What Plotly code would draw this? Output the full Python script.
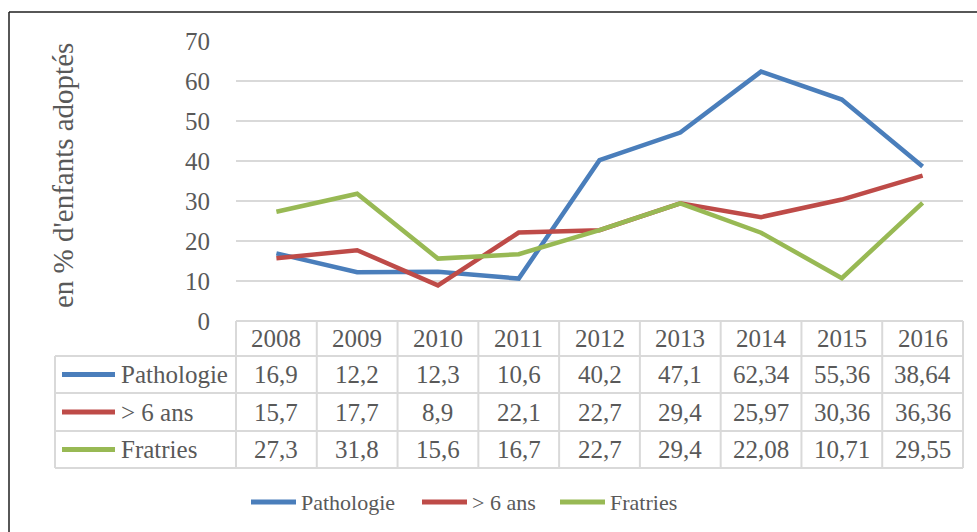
import plotly.graph_objects as go

# Data
years = ["2008", "2009", "2010", "2011", "2012", "2013", "2014", "2015", "2016"]
pathologie = [16.9, 12.2, 12.3, 10.6, 40.2, 47.1, 62.34, 55.36, 38.64]
plus_6_ans = [15.7, 17.7, 8.9, 22.1, 22.7, 29.4, 25.97, 30.36, 36.36]
fratries = [27.3, 31.8, 15.6, 16.7, 22.7, 29.4, 22.08, 10.71, 29.55]

series_names = ["Pathologie", "> 6 ans", "Fratries"]
series_values = [pathologie, plus_6_ans, fratries]
series_colors = ["#4A7EBB", "#BE4B48", "#98B954"]

y_ticks = [0, 10, 20, 30, 40, 50, 60, 70]
y_title = "en % d'enfants adoptés"

W, H = 977, 532
FONT = "Liberation Serif"
TXT = "#595959"
GRID = "#D9D9D9"


def px(x):
    return x / W


def py(y):
    return 1 - y / H


# plot-area geometry (pixels)
PL, PR = 236, 963      # left / right of plot & table columns
PT, PB = 41, 321       # top (70) / bottom (0) of value axis
ROWS = [321, 356, 393, 431, 468]   # table horizontal rules
TL = 55                # left edge of the label column

fig = go.Figure()

for name, vals, col in zip(series_names, series_values, series_colors):
    fig.add_trace(go.Scatter(
        x=years, y=vals, mode="lines", name=name,
        line=dict(color=col, width=4.5), showlegend=False,
        hoverinfo="x+y+name",
    ))

shapes = []
annotations = []

# outer chart border (left and top edges)
shapes.append(dict(type="line", xref="paper", yref="paper",
                   x0=px(9), x1=px(9), y0=py(12), y1=py(H + 5),
                   line=dict(color="#1f1f1f", width=1.5)))
shapes.append(dict(type="line", xref="paper", yref="paper",
                   x0=px(9), x1=px(W + 5), y0=py(12), y1=py(12),
                   line=dict(color="#1f1f1f", width=1.5)))

# data table rules
ncol = len(years)
colw = (PR - PL) / ncol
shapes.append(dict(type="line", xref="paper", yref="paper",
                   x0=px(PL), x1=px(PR), y0=py(ROWS[0]), y1=py(ROWS[0]),
                   line=dict(color=GRID, width=2)))
for yr in ROWS[1:]:
    shapes.append(dict(type="line", xref="paper", yref="paper",
                       x0=px(TL), x1=px(PR), y0=py(yr), y1=py(yr),
                       line=dict(color=GRID, width=2)))
for i in range(ncol + 1):
    xx = PL + i * colw
    shapes.append(dict(type="line", xref="paper", yref="paper",
                       x0=px(xx), x1=px(xx), y0=py(ROWS[0]), y1=py(ROWS[-1]),
                       line=dict(color=GRID, width=2)))
shapes.append(dict(type="line", xref="paper", yref="paper",
                   x0=px(TL), x1=px(TL), y0=py(ROWS[1]), y1=py(ROWS[-1]),
                   line=dict(color=GRID, width=2)))

# header row: years
for i, yv in enumerate(years):
    annotations.append(dict(
        x=px(PL + (i + 0.5) * colw), y=py((ROWS[0] + ROWS[1]) / 2),
        xref="paper", yref="paper", text=yv, showarrow=False,
        xanchor="center", yanchor="middle",
        font=dict(family=FONT, size=25, color=TXT)))

# series rows: legend key, name, values
for r, (name, vals, col) in enumerate(zip(series_names, series_values, series_colors)):
    yc = (ROWS[r + 1] + ROWS[r + 2]) / 2
    shapes.append(dict(type="line", xref="paper", yref="paper",
                       x0=px(62), x1=px(115), y0=py(yc), y1=py(yc),
                       line=dict(color=col, width=5)))
    annotations.append(dict(
        x=px(119), y=py(yc), xref="paper", yref="paper", text=name,
        showarrow=False, xanchor="left", yanchor="middle",
        font=dict(family=FONT, size=25, color=TXT)))
    for i, v in enumerate(vals):
        annotations.append(dict(
            x=px(PL + (i + 0.5) * colw), y=py(yc),
            xref="paper", yref="paper", text=str(v).replace(".", ","),
            showarrow=False, xanchor="center", yanchor="middle",
            font=dict(family=FONT, size=25, color=TXT)))

# bottom legend
leg_y = 502
leg_x = [249, 420, 558]
for name, col, lx in zip(series_names, series_colors, leg_x):
    shapes.append(dict(type="line", xref="paper", yref="paper",
                       x0=px(lx + 2), x1=px(lx + 47), y0=py(leg_y), y1=py(leg_y),
                       line=dict(color=col, width=5)))
    annotations.append(dict(
        x=px(lx + 50), y=py(leg_y), xref="paper", yref="paper", text=name,
        showarrow=False, xanchor="left", yanchor="middle",
        font=dict(family=FONT, size=22, color=TXT)))

# value-axis title
annotations.append(dict(
    x=px(63), y=py(176), xref="paper", yref="paper", text=y_title,
    showarrow=False, textangle=-90, xanchor="center", yanchor="middle",
    font=dict(family=FONT, size=29, color=TXT)))

fig.update_layout(
    width=W, height=H,
    margin=dict(l=0, r=0, t=0, b=0),
    paper_bgcolor="white", plot_bgcolor="white",
    shapes=shapes, annotations=annotations,
    xaxis=dict(domain=[px(PL), px(PR)], type="category",
               range=[-0.5, ncol - 0.5], showgrid=False,
               showticklabels=False, zeroline=False, showline=False,
               ticks="", automargin=False),
    yaxis=dict(domain=[py(PB), py(PT)], range=[0, 70],
               tickvals=y_ticks, showgrid=True, gridcolor=GRID, gridwidth=2,
               zeroline=False, showline=False, automargin=False,
               ticks="outside", ticklen=20, tickcolor="rgba(0,0,0,0)",
               tickfont=dict(family=FONT, size=25, color=TXT)),
    showlegend=False,
)

fig.write_html("out.html")
